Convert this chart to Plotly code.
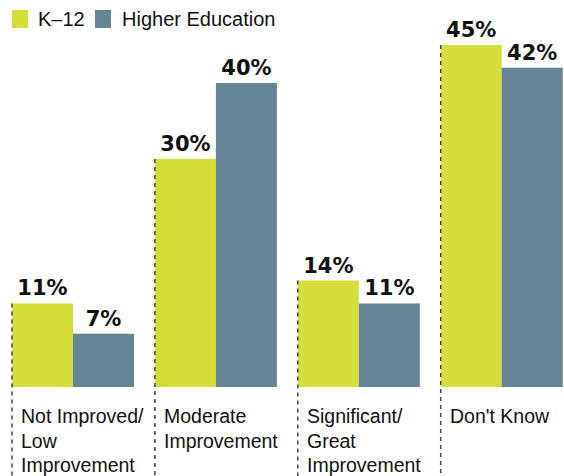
import plotly.graph_objects as go

categories = ["Not Improved/<br>Low<br>Improvement", "Moderate<br>Improvement",
              "Significant/<br>Great<br>Improvement", "Don't Know"]
k12 = [11, 30, 14, 45]
higher_ed = [7, 40, 11, 42]
series_names = ["K–12", "Higher Education"]

YELLOW = "#D5DF3B"
SLATE = "#658594"
LABEL_FONT = "Liberation Sans, Arial, sans-serif"
VALUE_FONT = "DejaVu Sans, sans-serif"

W, H = 564, 476
BARGAP = 0.146
xs = list(range(len(categories)))

fig = go.Figure()
for name, vals, col in [(series_names[0], k12, YELLOW), (series_names[1], higher_ed, SLATE)]:
    fig.add_trace(go.Bar(
        x=xs, y=vals, name=name, marker=dict(color=col, line=dict(width=0)),
        text=[f"{v}%" for v in vals], textposition="outside",
        textfont=dict(family=VALUE_FONT, size=21, color="#111111", weight="bold"),
        cliponaxis=False, showlegend=False, hoverinfo="skip",
    ))

half = (1 - BARGAP) / 2
shapes = []
annotations = []
for i, cat in enumerate(categories):
    left = i - half
    shapes.append(dict(type="line", xref="x", yref="y", x0=left, x1=left,
                       y0=k12[i], y1=-13, line=dict(color="#444444", width=1.5, dash="4px,4px"),
                       layer="above"))
    for j, line in enumerate(cat.split("<br>")):
        annotations.append(dict(x=left, y=0, xref="x", yref="y", text=line, showarrow=False,
                                xanchor="left", yanchor="middle", xshift=7, yshift=-29 - 24.5 * j,
                                font=dict(family=LABEL_FONT, size=19.5, color="#111111")))

def px(xp):
    return xp / W
def py(yp):
    return 1 - yp / H

legend_items = [(series_names[0], YELLOW, 12, 36), (series_names[1], SLATE, 95, 120)]
for name, col, sx, tx in legend_items:
    shapes.append(dict(type="rect", xref="paper", yref="paper", x0=px(sx), x1=px(sx + 16),
                       y0=py(28), y1=py(10), fillcolor=col, line=dict(width=0)))
    annotations.append(dict(x=px(tx), y=py(19), xref="paper", yref="paper", text=name,
                            showarrow=False, xanchor="left", yanchor="middle",
                            font=dict(family=LABEL_FONT, size=20, color="#111111")))

ppu = 7.6
zero_px = 387
center0 = 73
fig.update_layout(
    width=W, height=H, margin=dict(l=0, r=0, t=0, b=0),
    paper_bgcolor="white", plot_bgcolor="white",
    barmode="group", bargap=BARGAP, bargroupgap=0,
    xaxis=dict(range=[-center0 / 142.9, (W - center0) / 142.9], visible=False, fixedrange=True),
    yaxis=dict(range=[-(H - zero_px) / ppu, zero_px / ppu], visible=False, fixedrange=True),
    shapes=shapes, annotations=annotations,
)
fig.write_html("out.html", config={"displayModeBar": False},
               post_script="document.body.style.margin='0';document.body.style.overflow='hidden';")
